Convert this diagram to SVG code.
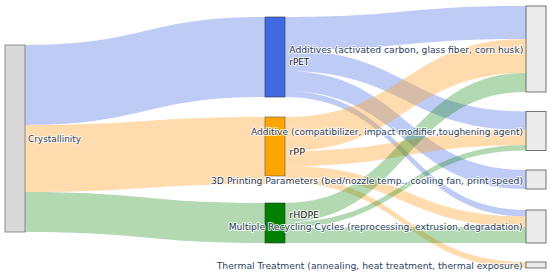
<svg xmlns="http://www.w3.org/2000/svg" width="550" height="276" viewBox="0 0 550 276">
<style>
.lb{fill:rgba(65,105,225,0.35)}
.lo{fill:rgba(255,160,40,0.38)}
.lg{fill:rgba(0,128,0,0.3)}
.t{font-family:"DejaVu Sans",Verdana,sans-serif;font-size:9.5px;fill:#2a3f5f;stroke:#fff;stroke-width:2;stroke-opacity:0.8;paint-order:stroke;stroke-linejoin:round}
.tm{fill:#222}
.nr{fill:#ebebeb;stroke:#555;stroke-width:0.8}
</style>
<rect width="550" height="276" fill="#fff"/>
<g id="links">
<path class="lb" d="M25,45 C145,45 145,17 265,17 L265,97 C145,97 145,125 25,125 Z"/>
<path class="lo" d="M25,125 C145,125 145,117 265,117 L265,184 C145,184 145,192 25,192 Z"/>
<path class="lg" d="M25,192 C145,192 145,203 265,203 L265,243 C145,243 145,232 25,232 Z"/>
<path class="lb" d="M285,17 C405.5,17 405.5,6 526,6 L526,39 C405.5,39 405.5,50 285,50 Z"/>
<path class="lb" d="M285,50 C405.5,50 405.5,111.5 526,111.5 L526,130 C405.5,130 405.5,71 285,71 Z"/>
<path class="lb" d="M285,71 C405.5,71 405.5,170 526,170 L526,189 C405.5,189 405.5,91 285,91 Z"/>
<path class="lb" d="M285,91 C405.5,91 405.5,210 526,210 L526,216.5 C405.5,216.5 405.5,97 285,97 Z"/>
<path class="lo" d="M285,117 C405.5,117 405.5,39 526,39 L526,73 C405.5,73 405.5,151 285,151 Z"/>
<path class="lo" d="M285,151 C405.5,151 405.5,130 526,130 L526,145 C405.5,145 405.5,166 285,166 Z"/>
<path class="lo" d="M285,166 C405.5,166 405.5,216.5 526,216.5 L526,227 C405.5,227 405.5,177 285,177 Z"/>
<path class="lo" d="M285,177 C405.5,177 405.5,262 526,262 L526,268 C405.5,268 405.5,183 285,183 Z"/>
<path class="lg" d="M285,203 C405.5,203 405.5,73 526,73 L526,92 C405.5,92 405.5,222 285,222 Z"/>
<path class="lg" d="M285,222 C405.5,222 405.5,145 526,145 L526,150.5 C405.5,150.5 405.5,227.5 285,227.5 Z"/>
<path class="lg" d="M285,227.5 C405.5,227.5 405.5,227 526,227 L526,243 C405.5,243 405.5,243 285,243 Z"/>
</g>
<g id="n-crystallinity">
<rect x="5" y="45" width="20" height="187" fill="#d9d9d9" stroke="#777" stroke-width="0.8"/>
<text class="t" x="28" y="141.5" textLength="53" lengthAdjust="spacingAndGlyphs">Crystallinity</text>
</g>
<g id="n-rpet">
<rect x="265" y="17" width="20" height="80" fill="#4169e1" stroke="#333" stroke-width="0.6"/>
</g>
<g id="n-rpp">
<rect x="265" y="117" width="20" height="59" fill="#ffa500" stroke="#555" stroke-width="0.6"/>
</g>
<g id="n-rhdpe">
<rect x="265" y="203" width="20" height="40" fill="#008000" stroke="#333" stroke-width="0.6"/>
</g>
<g id="n-additives">
<rect class="nr" x="526" y="6" width="20" height="86"/>
<text class="t" x="289.3" y="52.5" textLength="234" lengthAdjust="spacingAndGlyphs">Additives (activated carbon, glass fiber, corn husk)</text>
</g>
<g id="n-additive">
<rect class="nr" x="526" y="111.5" width="20" height="39"/>
<text class="t" x="251" y="134.5" textLength="272" lengthAdjust="spacingAndGlyphs">Additive (compatibilizer, impact modifier,toughening agent)</text>
</g>
<g id="n-3d">
<rect class="nr" x="526" y="170" width="20" height="19"/>
<text class="t" x="211" y="183.5" textLength="312" lengthAdjust="spacingAndGlyphs">3D Printing Parameters (bed/nozzle temp., cooling fan, print speed)</text>
</g>
<g id="n-recycling">
<rect class="nr" x="526" y="210" width="20" height="33"/>
<text class="t" x="228.7" y="229.5" textLength="294" lengthAdjust="spacingAndGlyphs">Multiple Recycling Cycles (reprocessing, extrusion, degradation)</text>
</g>
<g id="n-thermal">
<rect class="nr" x="526" y="262" width="20" height="6"/>
<text class="t" x="216.7" y="268.5" textLength="306" lengthAdjust="spacingAndGlyphs">Thermal Treatment (annealing, heat treatment, thermal exposure)</text>
</g>
<g id="mid-labels">
<text class="t tm" x="289.3" y="65" textLength="20" lengthAdjust="spacingAndGlyphs">rPET</text>
<text class="t tm" x="289.3" y="154.5" textLength="15.7" lengthAdjust="spacingAndGlyphs">rPP</text>
<text class="t tm" x="289.3" y="217.5" textLength="29.7" lengthAdjust="spacingAndGlyphs">rHDPE</text>
</g>
</svg>
